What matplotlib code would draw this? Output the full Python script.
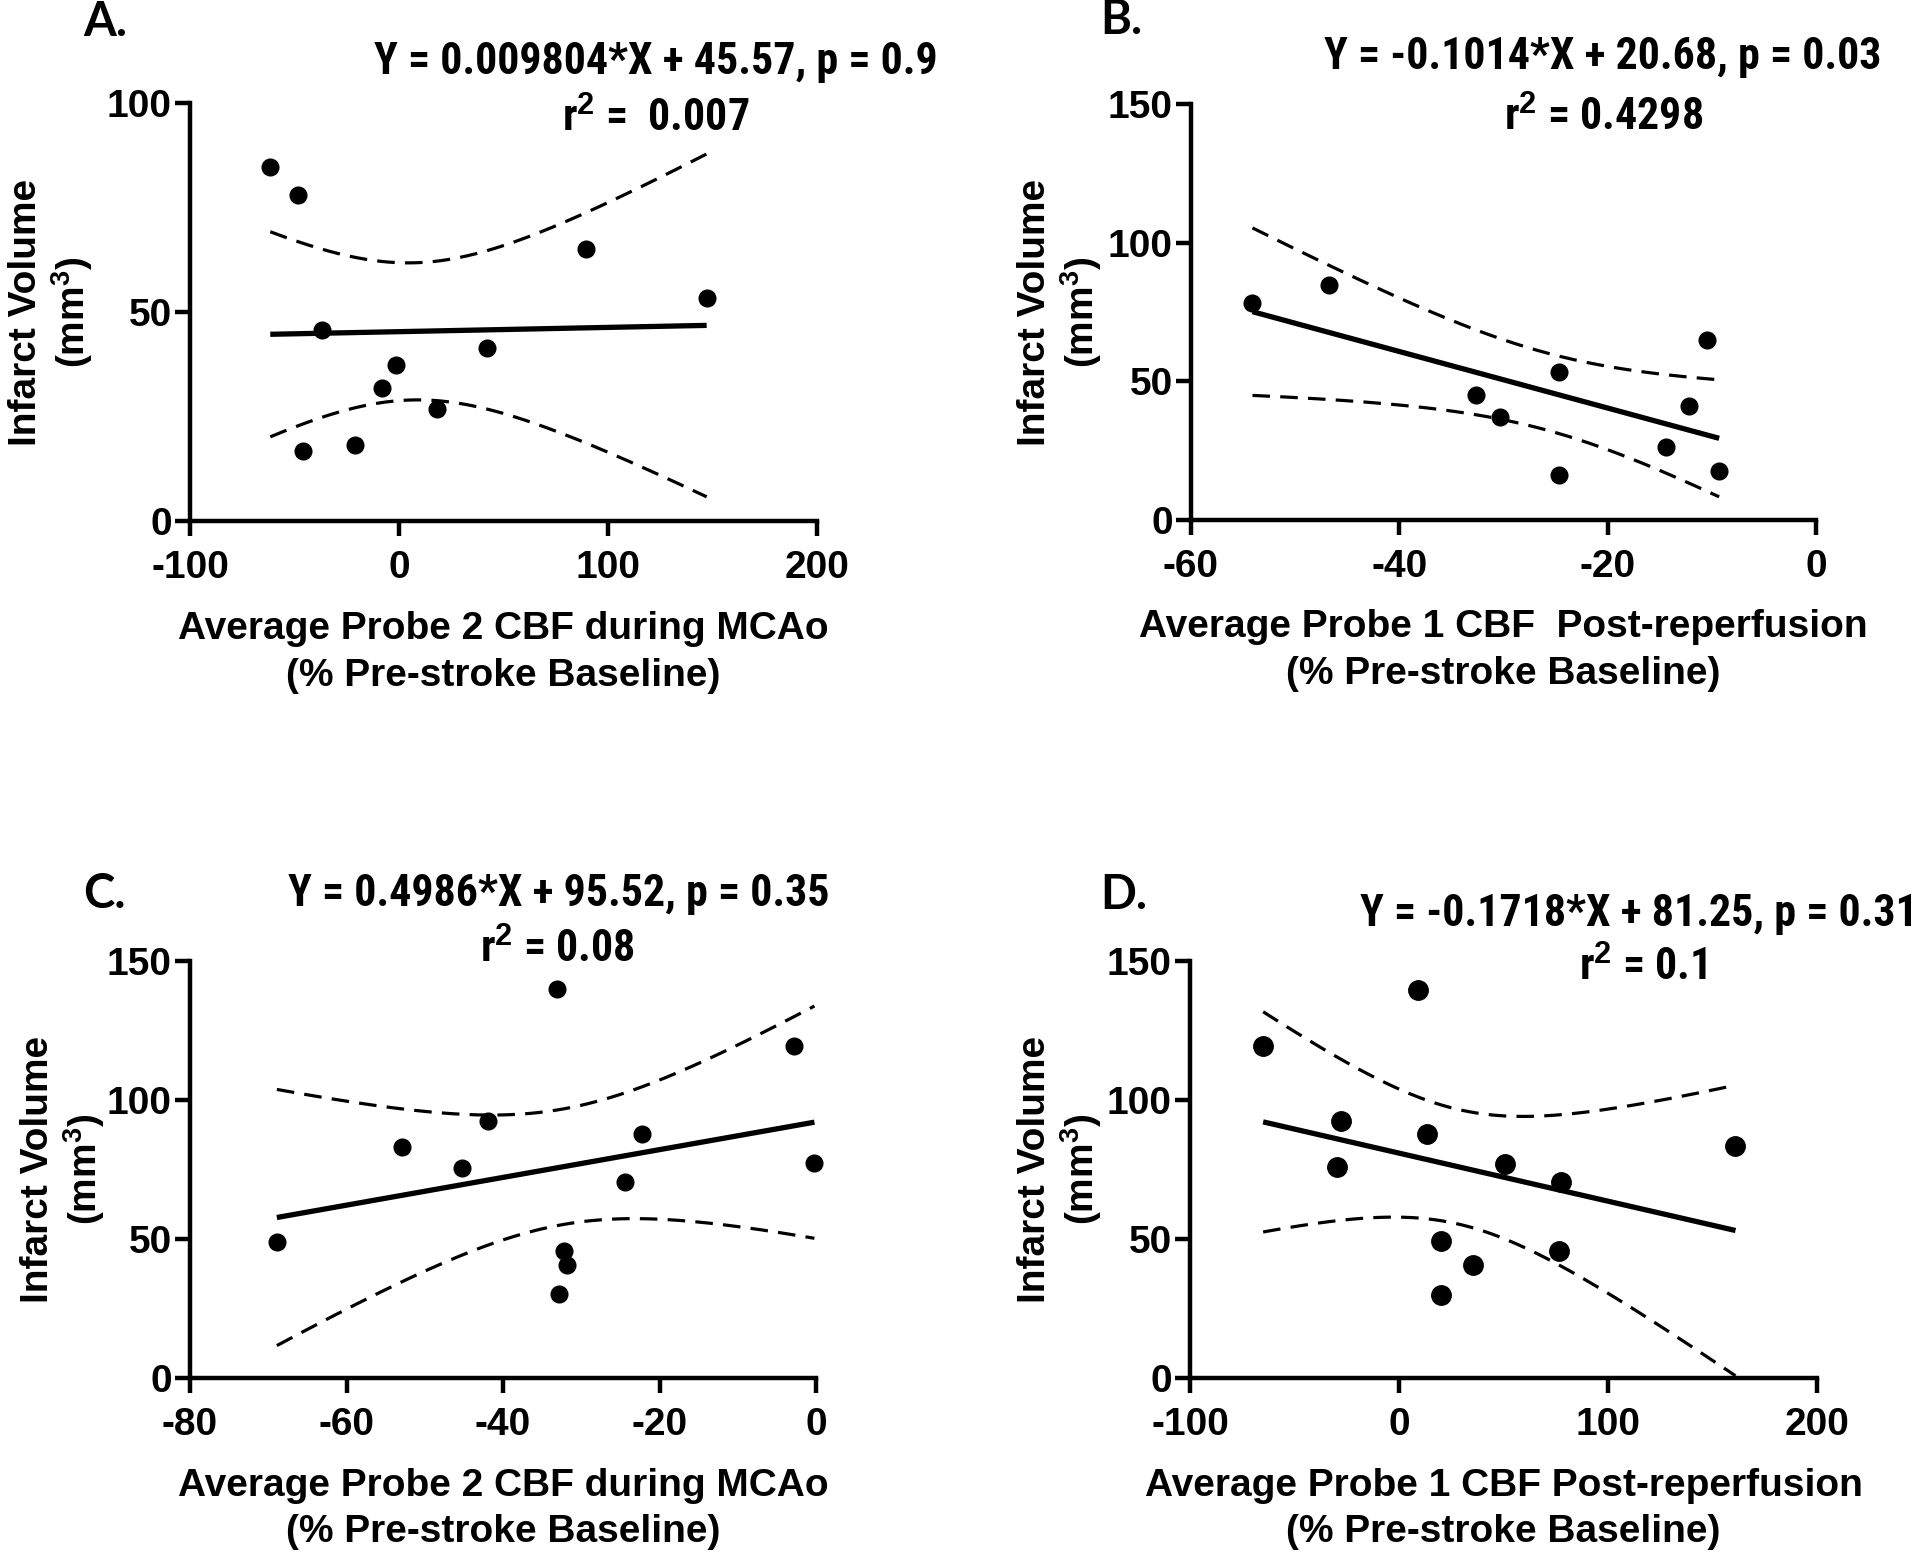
import numpy as np
import matplotlib
matplotlib.use("Agg")
import matplotlib.pyplot as plt
from matplotlib import font_manager

# ---- data ----
# A: probe 2 CBF during MCAo vs infarct volume
a_x = [-61.6, -48.4, -36.7, -46.0, -21.1, -8.2, -1.5, 18.2, 41.9, 89.4, 147.2]
a_y = [84.6, 78.0, 45.6, 16.8, 18.3, 31.8, 37.4, 26.8, 41.4, 65.0, 53.3]
# B: probe 1 CBF post-reperfusion
b_x = [-54.1, -46.8, -32.6, -30.3, -24.7, -24.7, -14.4, -12.2, -10.5, -9.3]
b_y = [78.2, 84.7, 45.2, 37.1, 53.2, 16.1, 26.3, 41.1, 64.8, 17.7]
# C: probe 2 CBF during MCAo
c_x = [-68.9, -52.9, -45.2, -41.9, -33.1, -32.2, -31.8, -32.9, -24.4, -22.3, -2.8, -0.2]
c_y = [49.0, 83.1, 75.7, 92.5, 139.8, 45.6, 40.7, 30.1, 70.4, 87.9, 119.4, 77.3]
# D: probe 1 CBF post-reperfusion
d_x = [-65.0, -27.8, -29.9, 9.1, 13.5, 19.9, 19.9, 35.4, 50.6, 77.6, 76.4, 161.0]
d_y = [119.3, 92.4, 75.9, 139.7, 87.9, 49.3, 29.8, 40.8, 77.1, 70.6, 45.7, 83.3]

letters = ["A.", "B.", "C.", "D."]
eq_lines = ["Y = 0.009804*X + 45.57, p = 0.9",
            "Y = -0.1014*X + 20.68, p = 0.03",
            "Y = 0.4986*X + 95.52, p = 0.35",
            "Y = -0.1718*X + 81.25, p = 0.31"]
r2_lines = ["r$^2$ =  0.007", "r$^2$ = 0.4298", "r$^2$ = 0.08", "r$^2$ = 0.1"]
xlabels = ["Average Probe 2 CBF during MCAo\n(% Pre-stroke Baseline)",
           "Average Probe 1 CBF  Post-reperfusion\n(% Pre-stroke Baseline)",
           "Average Probe 2 CBF during MCAo\n(% Pre-stroke Baseline)",
           "Average Probe 1 CBF Post-reperfusion\n(% Pre-stroke Baseline)"]
xticks = [[-100, 0, 100, 200], [-60, -40, -20, 0], [-80, -60, -40, -20, 0], [-100, 0, 100, 200]]
yticks = [[0, 50, 100], [0, 50, 100, 150], [0, 50, 100, 150], [0, 50, 100, 150]]

# two-sided 95% t values by degrees of freedom
t95 = {8: 2.306, 9: 2.262, 10: 2.228}

plt.rcParams["font.family"] = ["Liberation Sans", "DejaVu Sans"]
plt.rcParams["font.weight"] = "bold"
plt.rcParams["axes.unicode_minus"] = False
plt.rcParams["mathtext.fontset"] = "custom"
plt.rcParams["mathtext.rm"] = "Liberation Sans:bold"
plt.rcParams["mathtext.it"] = "Liberation Sans:bold"
plt.rcParams["mathtext.bf"] = "Liberation Sans:bold"


def narrow_bold_font():
    # the equations in the original use a condensed face; take one if there is one
    prefs = ["Liberation Sans Narrow", "Arial Narrow", "Roboto Condensed",
             "Noto Sans", "Open Sans", "DejaVu Sans"]
    for name in prefs:
        for f in font_manager.fontManager.ttflist:
            if f.name != name:
                continue
            bold = f.weight in ("bold", 700, "700")
            narrow = ("Narrow" in name or "Condensed" in name
                      or f.stretch in ("condensed", "semi-condensed"))
            if bold and narrow:
                return font_manager.FontProperties(fname=f.fname)
    return font_manager.FontProperties(family="Liberation Sans", weight="bold")


eq_prop = narrow_bold_font()

W, H = 1920, 1552
fig = plt.figure(figsize=(W / 100, H / 100), dpi=100)

# axes boxes in pixels: left, top, right, bottom
boxes = [(190, 103, 817, 521), (1191, 104, 1816, 520),
         (190, 961, 816, 1378), (1190, 961, 1817, 1378)]
letter_pos = [(83, 22), (1100, 20), (83, 894), (1100, 895)]
eq_pos = [(656, 62), (1603, 57), (559, 894), (1639, 914)]
r2_pos = [(656, 119), (1604, 118), (557, 950), (1643, 968)]
ylab_x = [-0.152, -0.139, -0.133, -0.137]
msizes = [12, 12, 12, 14]

data = [(a_x, a_y), (b_x, b_y), (c_x, c_y), (d_x, d_y)]
eq_texts = []

for i, (xs, ys) in enumerate(data):
    l, t, r, b = boxes[i]
    ax = fig.add_axes([l / W, 1 - b / H, (r - l) / W, (b - t) / H])
    x = np.array(xs)
    y = np.array(ys)

    # least squares line with 95% confidence band
    slope, icpt = np.polyfit(x, y, 1)
    n = len(x)
    resid = y - (slope * x + icpt)
    s = np.sqrt(np.sum(resid ** 2) / (n - 2))
    sxx = np.sum((x - x.mean()) ** 2)
    xx = np.linspace(x.min(), x.max(), 200)
    yy = slope * xx + icpt
    half = t95[n - 2] * s * np.sqrt(1 / n + (xx - x.mean()) ** 2 / sxx)

    ax.plot(xx, yy, color="black", lw=3.8, solid_capstyle="butt")
    ax.plot(xx, yy + half, color="black", lw=2.3, ls=(0, (5.5, 3.2)))
    ax.plot(xx, yy - half, color="black", lw=2.3, ls=(0, (5.5, 3.2)))
    ax.plot(x, y, "o", color="black", ms=msizes[i], zorder=5, clip_on=False)

    ax.set_xlim(xticks[i][0], xticks[i][-1])
    ax.set_ylim(yticks[i][0], yticks[i][-1])
    ax.set_xticks(xticks[i])
    ax.set_yticks(yticks[i])
    for side in ["top", "right"]:
        ax.spines[side].set_visible(False)
    for side in ["left", "bottom"]:
        ax.spines[side].set_linewidth(3.2)
        ax.spines[side].set_capstyle("projecting")
    ax.tick_params(direction="out", length=11, width=3.2, labelsize=28)
    ax.tick_params(axis="x", pad=10)
    ax.tick_params(axis="y", pad=2)

    ax.set_xlabel(xlabels[i], fontsize=28, fontweight="bold", linespacing=1.38)
    ax.xaxis.set_label_coords(0.5, -0.215)
    ax.set_ylabel("Infarct Volume\n(mm$^3$)", fontsize=28, fontweight="bold", linespacing=1.15)
    ax.yaxis.set_label_coords(ylab_x[i], 0.5)

    fig.text(letter_pos[i][0] / W, 1 - letter_pos[i][1] / H, letters[i], fontsize=34,
             fontweight="bold", family=["Lato", "Liberation Sans"], ha="left", va="center")
    t1 = fig.text(eq_pos[i][0] / W, 1 - eq_pos[i][1] / H, eq_lines[i],
                  fontproperties=eq_prop, ha="center", va="center")
    t2 = fig.text(r2_pos[i][0] / W, 1 - r2_pos[i][1] / H, r2_lines[i],
                  fontproperties=eq_prop, ha="center", va="center")
    eq_texts += [t1, t2]

# size the equation text so that the first line of A is as wide as in the original (~565 px)
for t in eq_texts:
    t.set_fontsize(28)
fig.canvas.draw()
w = eq_texts[0].get_window_extent().width
size = 28 * 565 / w
for t in eq_texts:
    t.set_fontsize(size)

fig.savefig("out.png", dpi=100)
